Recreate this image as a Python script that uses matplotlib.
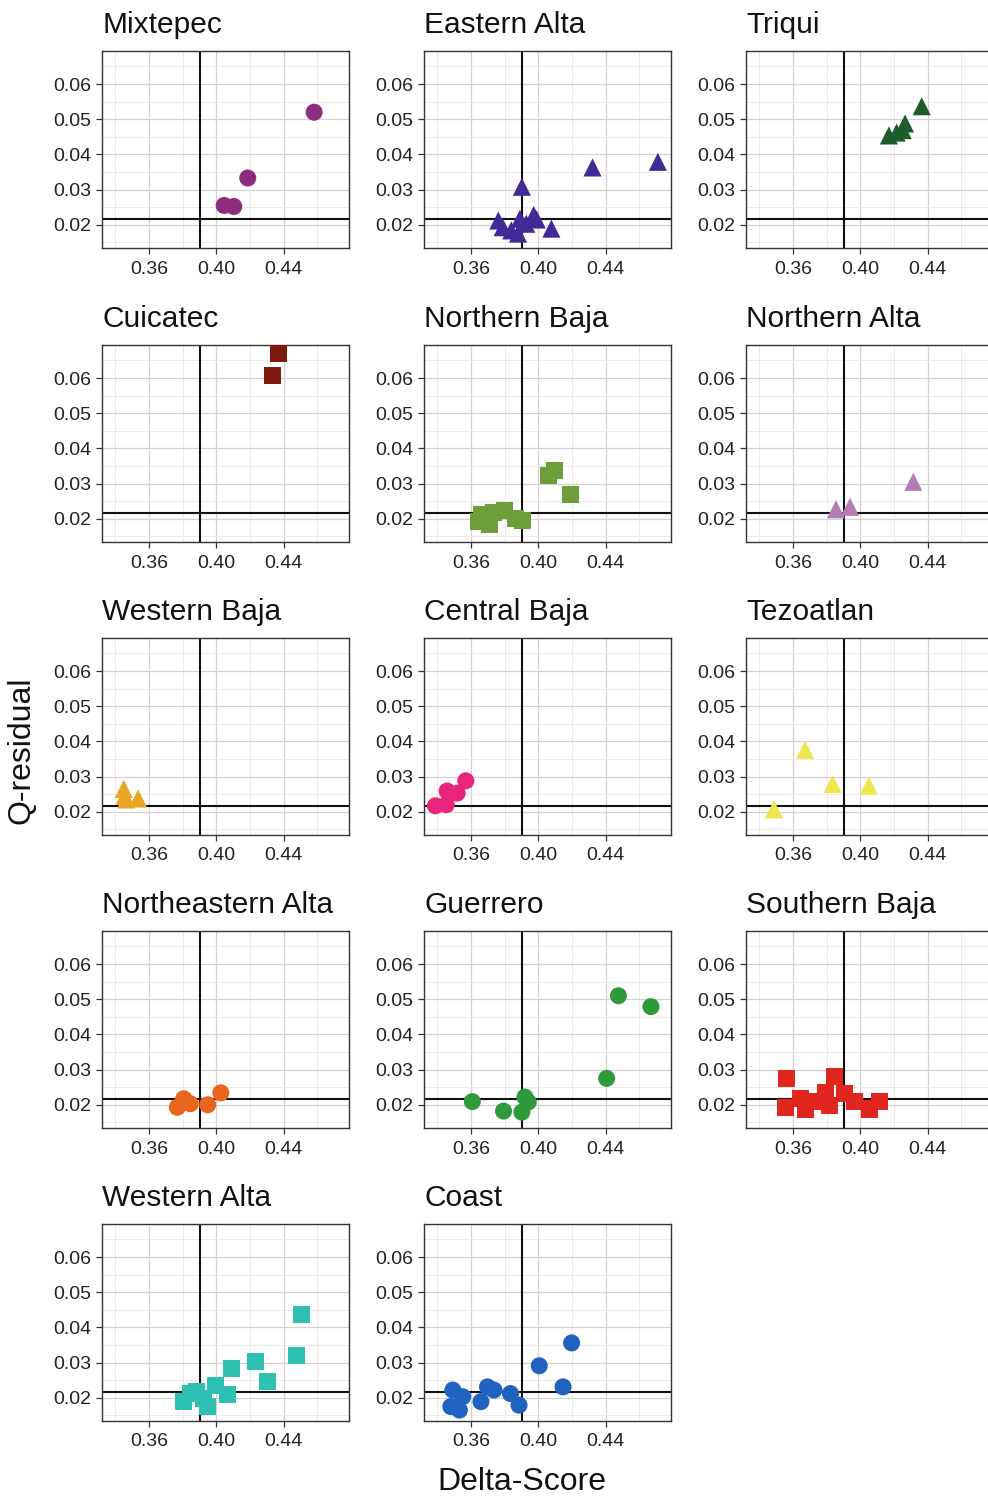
import matplotlib
matplotlib.use("Agg")
import matplotlib.pyplot as plt
from matplotlib.ticker import FixedLocator

plt.rcParams['font.family'] = ['Liberation Sans', 'DejaVu Sans']

# ---- data ----
regions = ["Mixtepec", "Eastern Alta", "Triqui",
           "Cuicatec", "Northern Baja", "Northern Alta",
           "Western Baja", "Central Baja", "Tezoatlan",
           "Northeastern Alta", "Guerrero", "Southern Baja",
           "Western Alta", "Coast"]

markers = ["o", "^", "^",
           "s", "s", "^",
           "^", "o", "^",
           "o", "o", "s",
           "s", "o"]

colors = ["#8E2C80", "#412A96", "#1E5C2A",
          "#7E1A0F", "#6E9E3A", "#B27DB3",
          "#E9A524", "#E8257A", "#EEE64C",
          "#E9641C", "#2F9A3B", "#E0261E",
          "#2EC0B1", "#1F62C0"]

delta = {
    "Mixtepec": [0.4046, 0.4103, 0.4186, 0.4580],
    "Eastern Alta": [0.3762, 0.3788, 0.3839, 0.3879, 0.3890, 0.3902, 0.3928, 0.3972, 0.3990, 0.4077, 0.4321, 0.4709],
    "Triqui": [0.4169, 0.4215, 0.4251, 0.4265, 0.4364],
    "Cuicatec": [0.4335, 0.4366],
    "Northern Baja": [0.3646, 0.3660, 0.3710, 0.3735, 0.3800, 0.3865, 0.3905, 0.4057, 0.4095, 0.4193],
    "Northern Alta": [0.3855, 0.3938, 0.4314],
    "Western Baja": [0.3450, 0.3455, 0.3465, 0.3535],
    "Central Baja": [0.3389, 0.3453, 0.3458, 0.3518, 0.3569],
    "Tezoatlan": [0.3487, 0.3672, 0.3835, 0.4050],
    "Northeastern Alta": [0.3768, 0.3806, 0.3845, 0.3948, 0.4026],
    "Guerrero": [0.3608, 0.3793, 0.3902, 0.3920, 0.3940, 0.4405, 0.4475, 0.4668],
    "Southern Baja": [0.3560, 0.3556, 0.3646, 0.3676, 0.3715, 0.3795, 0.3815, 0.3845, 0.3905, 0.3964, 0.4054, 0.4113],
    "Western Alta": [0.3806, 0.3845, 0.3884, 0.3923, 0.3948, 0.3992, 0.4065, 0.4090, 0.4232, 0.4304, 0.4474, 0.4508],
    "Coast": [0.3492, 0.3480, 0.3531, 0.3551, 0.3659, 0.3698, 0.3736, 0.3834, 0.3885, 0.4005, 0.4146, 0.4197],
}

qres = {
    "Mixtepec": [0.0255, 0.0252, 0.0333, 0.0520],
    "Eastern Alta": [0.0212, 0.0193, 0.0184, 0.0175, 0.0217, 0.0308, 0.0203, 0.0228, 0.0215, 0.0189, 0.0363, 0.0379],
    "Triqui": [0.0454, 0.0462, 0.0469, 0.0488, 0.0537],
    "Cuicatec": [0.0607, 0.0670],
    "Northern Baja": [0.0192, 0.0212, 0.0185, 0.0218, 0.0224, 0.0201, 0.0195, 0.0322, 0.0338, 0.0268],
    "Northern Alta": [0.0227, 0.0234, 0.0305],
    "Western Baja": [0.0265, 0.0245, 0.0235, 0.0238],
    "Central Baja": [0.0217, 0.0220, 0.0259, 0.0253, 0.0288],
    "Tezoatlan": [0.0207, 0.0376, 0.0279, 0.0274],
    "Northeastern Alta": [0.0193, 0.0217, 0.0203, 0.0200, 0.0234],
    "Guerrero": [0.0209, 0.0182, 0.0179, 0.0222, 0.0208, 0.0275, 0.0510, 0.0479],
    "Southern Baja": [0.0276, 0.0193, 0.0217, 0.0188, 0.0208, 0.0236, 0.0198, 0.0280, 0.0232, 0.0208, 0.0188, 0.0208],
    "Western Alta": [0.0189, 0.0212, 0.0217, 0.0197, 0.0175, 0.0236, 0.0210, 0.0282, 0.0302, 0.0245, 0.0320, 0.0437],
    "Coast": [0.0222, 0.0175, 0.0165, 0.0203, 0.0189, 0.0231, 0.0222, 0.0212, 0.0179, 0.0291, 0.0231, 0.0356],
}

x_ticks = [0.36, 0.40, 0.44]
x_tick_labels = ["0.36", "0.40", "0.44"]
y_ticks = [0.02, 0.03, 0.04, 0.05, 0.06]
y_tick_labels = ["0.02", "0.03", "0.04", "0.05", "0.06"]
delta_cut = 0.3902
q_cut = 0.0217

# ---- layout ----
W, H = 988, 1499
fig = plt.figure(figsize=(W / 100, H / 100), dpi=100)
fig.patch.set_facecolor("white")

col_left = [102, 424, 746]
row_top = [51, 345, 638, 931, 1224]
pw, ph = 247, 197

sizes = {"o": 150, "s": 150, "^": 170}

for i, reg in enumerate(regions):
    r, c = divmod(i, 3)
    left = col_left[c] / W
    bottom = 1 - (row_top[r] + ph) / H
    ax = fig.add_axes([left, bottom, pw / W, ph / H])
    ax.set_xlim(0.3321, 0.4787)
    ax.set_ylim(0.0134, 0.0694)
    ax.xaxis.set_major_locator(FixedLocator(x_ticks))
    ax.set_xticklabels(x_tick_labels)
    ax.xaxis.set_minor_locator(FixedLocator([0.34, 0.38, 0.42, 0.46]))
    ax.yaxis.set_major_locator(FixedLocator(y_ticks))
    ax.set_yticklabels(y_tick_labels)
    ax.yaxis.set_minor_locator(FixedLocator([0.015, 0.025, 0.035, 0.045, 0.055, 0.065]))
    ax.grid(which="major", color="#d6d0d0", lw=0.9)
    ax.grid(which="minor", color="#ebe7e7", lw=0.6)
    ax.set_axisbelow(True)
    ax.tick_params(axis="x", which="major", pad=5)
    ax.tick_params(which="major", length=4, width=0.9, color="#333333",
                   labelsize=14, labelcolor="#222222")
    ax.tick_params(which="minor", length=0)
    for sp in ax.spines.values():
        sp.set_color("#333333")
        sp.set_linewidth(1.0)
    ax.axvline(delta_cut, color="#111111", lw=1.5, zorder=2)
    ax.axhline(q_cut, color="#111111", lw=1.5, zorder=2)
    ax.scatter(delta[reg], qres[reg], marker=markers[i], s=sizes[markers[i]],
               color=colors[i], edgecolors="none", zorder=3)
    ax.set_title(reg, loc="left", fontsize=21.5, color="#111111", pad=13, x=0.0)

fig.text(22 / W, 1 - 750 / H, "Q-residual", rotation=90, ha="center", va="center",
         fontsize=23, color="#111111")
fig.text(522 / W, 1 - 1482 / H, "Delta-Score", ha="center", va="center",
         fontsize=23, color="#111111")

fig.savefig("out.png", dpi=100, facecolor="white")
